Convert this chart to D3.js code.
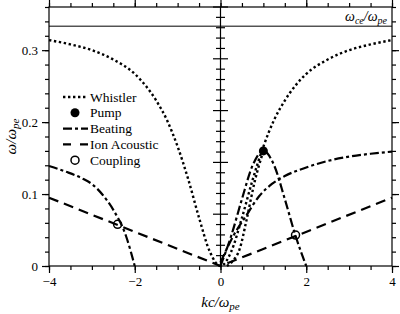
<!DOCTYPE html>
<html>
<head>
<meta charset="utf-8">
<script src="https://cdn.jsdelivr.net/npm/d3@7"></script>
<style>
  body { margin: 0; background: #fff; }
</style>
</head>
<body>
<svg id="chart-svg"></svg>
<script>
// values (k in kc/w_pe, w in w/w_pe)
const whistlerK = [-4, -3.5, -3, -2.5, -2, -1.5, -1.25, -1, -0.75, -0.5, -0.25, 0, 0.25, 0.5, 0.75, 1, 1.25, 1.5, 2, 2.5, 3, 3.5, 4];
const whistlerW = [0.314, 0.308, 0.300, 0.287, 0.267, 0.230, 0.203, 0.166, 0.120, 0.067, 0.020, 0, 0.020, 0.067, 0.120, 0.166, 0.203, 0.230, 0.267, 0.287, 0.300, 0.308, 0.314];
const whistler2K = [0.15, 0.3, 0.45, 0.6, 0.8, 1.0];
const whistler2W = [0, 0.008, 0.024, 0.062, 0.118, 0.16];
const beatLeftK = [-4, -3.6, -3.2, -3, -2.75, -2.5, -2.2, -2];
const beatLeftW = [0.139, 0.131, 0.121, 0.114, 0.099, 0.078, 0.041, 0];
const beatArchK = [0, 0.25, 0.5, 0.75, 1, 1.25, 1.5, 1.75, 2];
const beatArchW = [0, 0.042, 0.093, 0.14, 0.16, 0.14, 0.093, 0.042, 0];
const beatUpK = [0, 0.3, 0.6, 0.9, 1.2, 1.5, 2, 2.5, 3, 3.5, 4];
const beatUpW = [0.005, 0.042, 0.07, 0.097, 0.114, 0.125, 0.137, 0.146, 0.152, 0.156, 0.159];
const ionK = [-4, 0, 4];
const ionW = [0.095, 0, 0.095];
const pump = [[1, 0.16]];
const coupling = [[-2.4, 0.058], [1.75, 0.043]];
const wce = 1 / 3;
const xTicks = [-4, -2, 0, 2, 4];
const yTicks = [0, 0.1, 0.2, 0.3];
const legendLabels = ["Whistler", "Pump", "Beating", "Ion Acoustic", "Coupling"];

const FONT = "Liberation Serif";

var margin = { top: 7, right: 8, bottom: 48, left: 49 },
    width = 400 - margin.left - margin.right,
    height = 314 - margin.top - margin.bottom;

const root = d3.select("#chart-svg")
  .attr("width", 400).attr("height", 314);
const svg = root.append("g")
  .attr("transform", "translate(" + margin.left + "," + margin.top + ")");

var x = d3.scaleLinear().domain([-4, 4]).range([0, width]);
var y = d3.scaleLinear().domain([0, 0.36]).range([height, 0]);
var y2 = d3.scaleLinear().domain([0, 5]).range([height, 0]);

function zip(a, b) { return a.map((v, i) => [v, b[i]]); }

// minor ticks
var xMinor = d3.range(-4, 4.01, 0.5);
var yMinor = d3.range(0, 0.361, 0.02);

function tickAxis(axisFn, scale, values, size) {
  return axisFn(scale).tickValues(values).tickSize(size).tickSizeOuter(0).tickFormat("");
}

// bottom
svg.append("g").attr("transform", "translate(0," + height + ")")
  .call(tickAxis(d3.axisBottom, x, xMinor, 4));
svg.append("g").attr("class", "lab").attr("transform", "translate(0," + height + ")")
  .call(d3.axisBottom(x).tickValues(xTicks).tickSize(7).tickSizeOuter(0).tickPadding(4).tickFormat(d3.format("d")));
// top
svg.append("g").call(tickAxis(d3.axisTop, x, xMinor, 4));
svg.append("g").call(tickAxis(d3.axisTop, x, xTicks, 7));
// left
svg.append("g").call(tickAxis(d3.axisLeft, y, yMinor, 4));
svg.append("g").attr("class", "lab")
  .call(d3.axisLeft(y).tickValues(yTicks).tickSize(7).tickSizeOuter(0).tickPadding(4).tickFormat(d => d === 0 ? "0" : d3.format(".1f")(d)));
// right
svg.append("g").attr("transform", "translate(" + width + ",0)").call(tickAxis(d3.axisRight, y, yMinor, 4));
svg.append("g").attr("transform", "translate(" + width + ",0)").call(tickAxis(d3.axisRight, y, yTicks, 7));

// central axis with crossing ticks
var cx = x(0);
var c = svg.append("g");
c.append("line").attr("x1", cx).attr("x2", cx).attr("y1", 0).attr("y2", height).attr("stroke", "#000").attr("stroke-width", 1.2);
c.selectAll("line.t").data(d3.range(0.2, 5.01, 0.2)).enter().append("line")
  .attr("class", "t")
  .attr("x1", d => cx - (Math.abs(d - Math.round(d)) < 1e-6 ? 7.5 : 4.5))
  .attr("x2", d => cx + (Math.abs(d - Math.round(d)) < 1e-6 ? 7.5 : 4.5))
  .attr("y1", d => y2(d)).attr("y2", d => y2(d))
  .attr("stroke", "#000").attr("stroke-width", 1.2);

svg.selectAll(".domain").remove();
svg.selectAll(".tick line").attr("stroke", "#000").attr("stroke-width", 1.2);
svg.selectAll(".lab text").attr("fill", "#000").attr("font-family", null)
  .style("font-family", FONT).style("font-size", "13px");

// frame
svg.append("rect").attr("width", width).attr("height", height)
  .attr("fill", "none").attr("stroke", "#000").attr("stroke-width", 1.2);

// w_ce line
svg.append("line").attr("x1", 0).attr("x2", width).attr("y1", y(wce)).attr("y2", y(wce))
  .attr("stroke", "#000").attr("stroke-width", 1);
var wl = svg.append("text").attr("x", width - 5).attr("y", y(wce) - 5)
  .attr("text-anchor", "end").style("font-family", FONT).style("font-size", "14px").style("font-style", "italic");
wl.append("tspan").text("ω");
wl.append("tspan").attr("dy", 3).style("font-size", "10px").text("ce");
wl.append("tspan").attr("dy", -3).text("/ω");
wl.append("tspan").attr("dy", 3).style("font-size", "10px").text("pe");

// curves
var lineM = d3.line().x(d => x(d[0])).y(d => y(d[1])).curve(d3.curveMonotoneX);
var lineL = d3.line().x(d => x(d[0])).y(d => y(d[1]));

var styles = {
  whistler: { dash: "2.4,2.6", w: 2.4 },
  beating: { dash: "9,3,3,3", w: 2.2 },
  ion: { dash: "10,6", w: 2.2 }
};
function curve(data, st, gen) {
  svg.append("path").datum(data)
    .attr("fill", "none").attr("stroke", "#000")
    .attr("stroke-width", st.w).attr("stroke-dasharray", st.dash)
    .attr("d", gen);
}
curve(zip(ionK, ionW), styles.ion, lineL);
curve(zip(beatLeftK, beatLeftW), styles.beating, lineM);
curve(zip(beatArchK, beatArchW), styles.beating, lineM);
curve(zip(beatUpK, beatUpW), styles.beating, lineM);
curve(zip(whistlerK, whistlerW), styles.whistler, lineM);
curve(zip(whistler2K, whistler2W), styles.whistler, lineM);

svg.selectAll("circle.pump").data(pump).enter().append("circle")
  .attr("cx", d => x(d[0])).attr("cy", d => y(d[1])).attr("r", 4.5).attr("fill", "#000");
svg.selectAll("circle.coup").data(coupling).enter().append("circle")
  .attr("cx", d => x(d[0])).attr("cy", d => y(d[1])).attr("r", 4)
  .attr("fill", "none").attr("stroke", "#000").attr("stroke-width", 1.5);

// legend
var lg = svg.append("g").attr("transform", "translate(14,90)");
legendLabels.forEach(function(lab, i) {
  var yy = i * 15.8;
  if (lab === "Pump") {
    lg.append("circle").attr("cx", 12).attr("cy", yy).attr("r", 4.5).attr("fill", "#000");
  } else if (lab === "Coupling") {
    lg.append("circle").attr("cx", 12).attr("cy", yy).attr("r", 4).attr("fill", "none").attr("stroke", "#000").attr("stroke-width", 1.5);
  } else {
    var st = lab === "Whistler" ? styles.whistler : lab === "Beating" ? styles.beating : { dash: "8,9", w: 2.2 };
    lg.append("line").attr("x1", 0).attr("x2", 25).attr("y1", yy).attr("y2", yy)
      .attr("stroke", "#000").attr("stroke-width", st.w).attr("stroke-dasharray", st.dash);
  }
  lg.append("text").attr("x", 27).attr("y", yy + 4.5)
    .style("font-family", FONT).style("font-size", "13.5px").text(lab);
});

// axis titles
var xt = root.append("text")
  .attr("x", margin.left + x(0)).attr("y", 307).attr("text-anchor", "middle")
  .style("font-family", FONT).style("font-size", "15px").style("font-style", "italic");
xt.append("tspan").text("kc/ω");
xt.append("tspan").attr("dy", 3).style("font-size", "11px").text("pe");

var yt = root.append("text")
  .attr("transform", "translate(16," + (margin.top + height / 2) + ") rotate(-90)")
  .attr("text-anchor", "middle")
  .style("font-family", FONT).style("font-size", "15px").style("font-style", "italic");
yt.append("tspan").text("ω/ω");
yt.append("tspan").attr("dy", 3).style("font-size", "11px").text("pe");
</script>
</body>
</html>
